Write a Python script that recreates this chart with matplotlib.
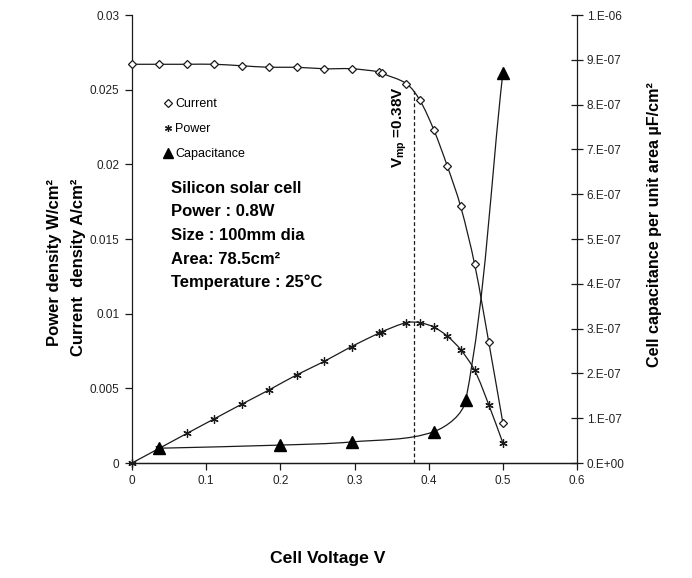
import matplotlib
matplotlib.use("Agg")
import matplotlib.pyplot as plt
from matplotlib.path import Path
from matplotlib.patches import PathPatch
from matplotlib.lines import Line2D
import numpy as np

plt.rcParams['font.family'] = ['Liberation Sans', 'DejaVu Sans']
plt.rcParams['mathtext.fontset'] = 'custom'
plt.rcParams['mathtext.rm'] = 'Liberation Sans:bold'
plt.rcParams['mathtext.it'] = 'Liberation Sans:bold'
plt.rcParams['mathtext.bf'] = 'Liberation Sans:bold'

# ---- data ----
voltage = [0, 0.037, 0.074, 0.111, 0.148, 0.185, 0.222, 0.259, 0.296, 0.333, 0.337,
           0.370, 0.388, 0.407, 0.425, 0.443, 0.462, 0.481, 0.500]
current = [0.0267, 0.0267, 0.0267, 0.0267, 0.0266, 0.0265, 0.0265, 0.0264, 0.0264, 0.0262, 0.0261,
           0.0254, 0.0243, 0.0223, 0.0199, 0.0172, 0.0133, 0.0081, 0.0027]
power = [0.0, 0.00099, 0.00198, 0.00296, 0.00394, 0.0049, 0.0059, 0.0068, 0.0078, 0.0087, 0.0088,
         0.0094, 0.0094, 0.0091, 0.0085, 0.0076, 0.0062, 0.0039, 0.00135]
cap_voltage = [0.037, 0.200, 0.296, 0.407, 0.450, 0.500]
capacitance = [3.3e-8, 4.0e-8, 4.7e-8, 7.0e-8, 1.4e-7, 8.7e-7]

xticks = [0, 0.1, 0.2, 0.3, 0.4, 0.5, 0.6]
xticklabels = ['0', '0.1', '0.2', '0.3', '0.4', '0.5', '0.6']
lticks = [0, 0.005, 0.01, 0.015, 0.02, 0.025, 0.03]
lticklabels = ['0', '0.005', '0.01', '0.015', '0.02', '0.025', '0.03']
rticks = [i * 1e-7 for i in range(11)]
rticklabels = ['0.E+00', '1.E-07', '2.E-07', '3.E-07', '4.E-07', '5.E-07',
               '6.E-07', '7.E-07', '8.E-07', '9.E-07', '1.E-06']
v_mp = 0.38
i_mp_line_top = 0.0250

info_lines = ['Silicon solar cell', 'Power : 0.8W', 'Size : 100mm dia',
              'Area: 78.5cm²', 'Temperature : 25°C']


def smooth_patch(ax, xs, ys, **kw):
    """Smoothed line (Bezier) through the data points, tangents scaled by
    segment lengths measured on screen so nothing overshoots."""
    tr = ax.transData
    D = tr.transform(np.column_stack([xs, ys]).astype(float))
    n = len(D)
    verts = [D[0]]
    codes = [Path.MOVETO]
    for i in range(n - 1):
        p0 = D[i - 1] if i > 0 else D[i]
        p1 = D[i]
        p2 = D[i + 1]
        p3 = D[i + 2] if i + 2 < n else D[i + 1]
        d0 = np.hypot(*(p1 - p0))
        d1 = np.hypot(*(p2 - p1))
        d2 = np.hypot(*(p3 - p2))
        f1 = d1 / (d0 + d1) if d0 + d1 > 0 else 0.5
        f2 = d1 / (d1 + d2) if d1 + d2 > 0 else 0.5
        c1 = p1 + (p2 - p0) * f1 / 3.0
        c2 = p2 - (p3 - p1) * f2 / 3.0
        verts += [c1, c2, p2]
        codes += [Path.CURVE4] * 3
    verts = tr.inverted().transform(np.array(verts))
    patch = PathPatch(Path(verts, codes), fill=False, transform=tr, **kw)
    ax.add_patch(patch)
    return patch


fig = plt.figure(figsize=(6.92, 5.78), dpi=100)
ax = fig.add_axes([132 / 692, 1 - 463 / 578, 445 / 692, 448 / 578])
ax.set_xlim(0, 0.6)
ax.set_ylim(0, 0.03)
ax2 = ax.twinx()
ax2.set_ylim(0, 1e-6)
ax2.set_xlim(0, 0.6)

lc = '#1a1a1a'
lw = 0.9

smooth_patch(ax, voltage, current, edgecolor=lc, linewidth=lw, zorder=2)
smooth_patch(ax, voltage, power, edgecolor=lc, linewidth=lw, zorder=2)
smooth_patch(ax2, cap_voltage, capacitance, edgecolor=lc, linewidth=lw, zorder=2)

ax.plot(voltage, current, linestyle='none', marker='D', markersize=4.5,
        markerfacecolor='white', markeredgecolor=lc, markeredgewidth=0.9, zorder=3, clip_on=False)
ax.plot(voltage, power, linestyle='none', marker=(6, 2, 0), markersize=6,
        markeredgecolor=lc, markeredgewidth=0.9, zorder=3, clip_on=False)
ax2.plot(cap_voltage, capacitance, linestyle='none', marker='^', markersize=9,
         color='black', zorder=3, clip_on=False)

ax.plot([v_mp, v_mp], [0, i_mp_line_top], linestyle=(0, (3, 2)), color=lc, linewidth=0.9, zorder=1)

# axes styling
for a in (ax, ax2):
    a.spines['top'].set_visible(False)
ax.spines['right'].set_visible(False)
ax2.spines['left'].set_visible(False)
for a in (ax, ax2):
    for s in a.spines.values():
        s.set_linewidth(0.9)
        s.set_color(lc)

ax.set_xticks(xticks)
ax.set_xticklabels(xticklabels)
ax.set_yticks(lticks)
ax.set_yticklabels(lticklabels)
ax2.set_yticks(rticks)
ax2.set_yticklabels(rticklabels)
ax.tick_params(axis='both', direction='out', length=5, width=0.9, colors=lc,
               labelsize=8.5, labelcolor='#222222', pad=4)
ax2.tick_params(axis='y', direction='inout', length=8, width=0.9, colors=lc,
                labelsize=8.5, labelcolor='#222222', pad=3)

# legend
legend_items = [
    Line2D([], [], linestyle='none', marker='D', markersize=4, markerfacecolor='white',
           markeredgecolor=lc, markeredgewidth=0.9, label='Current'),
    Line2D([], [], linestyle='none', marker=(6, 2, 0), markersize=5, markeredgecolor=lc,
           markeredgewidth=0.9, label='Power'),
    Line2D([], [], linestyle='none', marker='^', markersize=7, color='black', label='Capacitance'),
]
leg = ax.legend(handles=legend_items, loc='center left', bbox_to_anchor=(0.072, 0.745),
                frameon=False, fontsize=9, handlelength=0.6, handletextpad=0.3,
                labelspacing=1.05, borderaxespad=0, borderpad=0)

# info text
for i, t in enumerate(info_lines):
    ax.text(0.053, 0.0184 - i * 0.00158, t, fontsize=12, fontweight='bold',
            va='center', ha='left', color='black')

ax.text(0.361, 0.0225, r'V$_{\mathrm{mp}}$ =0.38V', rotation=90, fontsize=11,
        fontweight='bold', ha='center', va='center', color='black')

fig.text(55 / 692, 1 - 263 / 578, 'Power density W/cm²', rotation=90, fontsize=12,
         fontweight='bold', ha='center', va='center')
fig.text(78 / 692, 1 - 267 / 578, 'Current  density A/cm²', rotation=90, fontsize=12,
         fontweight='bold', ha='center', va='center')
fig.text(655 / 692, 1 - 225 / 578, 'Cell capacitance per unit area µF/cm²', rotation=90,
         fontsize=11.6, fontweight='bold', ha='center', va='center')
fig.text(328 / 692, 1 - 558 / 578, 'Cell Voltage V', fontsize=12.6, fontweight='bold',
         ha='center', va='center')

fig.savefig('out.png', dpi=100)
